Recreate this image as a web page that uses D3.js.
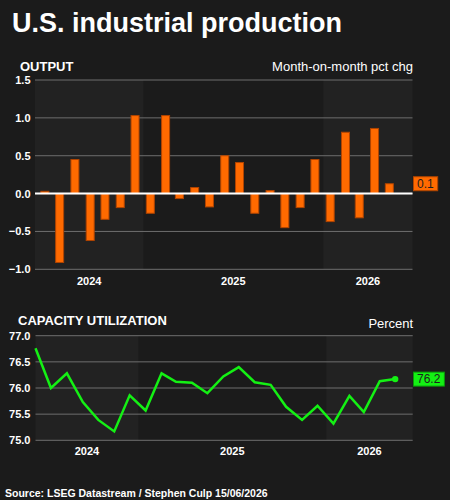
<!DOCTYPE html>
<html>
<head>
<meta charset="utf-8">
<script src="https://cdn.jsdelivr.net/npm/d3@7"></script>
<style>
  body { margin: 0; background: #1b1b1b; }
  svg { display: block; font-family: "Liberation Sans", Arial, sans-serif; }
</style>
</head>
<body>
<div id="chart"></div>
<script>
  // ── Data ──────────────────────────────────────────────────────────────────
  const months = [
    "2024-06", "2024-07", "2024-08", "2024-09", "2024-10", "2024-11", "2024-12",
    "2025-01", "2025-02", "2025-03", "2025-04", "2025-05", "2025-06",
    "2025-07", "2025-08", "2025-09", "2025-10", "2025-11", "2025-12",
    "2026-01", "2026-02", "2026-03", "2026-04", "2026-05"
  ];
  // Industrial output, month-on-month pct change
  const outputChg = [
    0.03, -0.91, 0.45, -0.62, -0.34, -0.185, 1.03,
    -0.26, 1.03, -0.066, 0.08, -0.176, 0.50,
    0.41, -0.26, 0.04, -0.45, -0.185, 0.45,
    -0.37, 0.81, -0.32, 0.86, 0.13
  ];
  // Capacity utilization, percent
  const capUtil = [
    76.76, 76.00, 76.28, 75.73, 75.39, 75.17, 75.86,
    75.57, 76.28, 76.12, 76.10, 75.90, 76.22,
    76.40, 76.11, 76.06, 75.64, 75.39, 75.66,
    75.32, 75.85, 75.54, 76.13, 76.17
  ];
  const years = [2024, 2025, 2026];
  const outputTicks = [-1.0, -0.5, 0.0, 0.5, 1.0, 1.5];
  const capTicks = [75.0, 75.5, 76.0, 76.5, 77.0];

  const W = 450, H = 500;
  const BG = '#1b1b1b', BAND = '#222222', GRID = '#6e6e6e';
  const ORANGE = '#ff6a00', ORANGE_DARK = '#b04400';
  const GREEN = '#14f014', GREEN_DARK = '#0a9a0a';

  // observations are plotted mid-month
  const dates = months.map(m => {
    const [y, mo] = m.split('-').map(Number);
    return new Date(y, mo - 1, 15);
  });

  const svg = d3.select('#chart').append('svg')
    .attr('width', W).attr('height', H);

  svg.append('rect').attr('width', W).attr('height', H).attr('fill', BG);

  svg.append('text')
    .attr('x', 12).attr('y', 32)
    .attr('fill', '#fff').attr('font-size', 27).attr('font-weight', 700)
    .text('U.S. industrial production');

  svg.append('text')
    .attr('x', 5).attr('y', 496.5)
    .attr('fill', '#fff').attr('font-size', 10.5).attr('font-weight', 700)
    .text('Source: LSEG Datastream / Stephen Culp 15/06/2026');

  // ── Shared panel scaffolding: year bands, grid, labels ────────────────────
  function drawPanel(opt) {
    const g = svg.append('g');
    const x = d3.scaleTime().domain(opt.xDomain).range(opt.xRange);
    const y = d3.scaleLinear().domain(opt.yDomain).range(opt.yRange);
    const [x0, x1] = opt.xRange;

    // alternating year shading
    const bands = years.map((yr, i) => {
      const a = Math.max(x0, x(new Date(yr, 0, 1)));
      const b = Math.min(x1, x(new Date(yr + 1, 0, 1)));
      return { yr, a, b, shaded: i % 2 === 0 };
    });
    g.selectAll('.band').data(bands.filter(d => d.shaded)).join('rect')
      .attr('x', d => d.a).attr('width', d => d.b - d.a)
      .attr('y', y.range()[1]).attr('height', y.range()[0] - y.range()[1])
      .attr('fill', BAND);

    // gridlines + y labels
    g.selectAll('.grid').data(opt.ticks).join('line')
      .attr('x1', x0).attr('x2', x1)
      .attr('y1', d => y(d)).attr('y2', d => y(d))
      .attr('stroke', GRID).attr('stroke-width', 1);

    g.selectAll('.ylab').data(opt.ticks).join('text')
      .attr('x', 30.5).attr('y', d => y(d)).attr('dy', '0.36em')
      .attr('text-anchor', 'end')
      .attr('fill', '#fff').attr('font-size', 11).attr('font-weight', 700)
      .text(d => d3.format('.1f')(d));

    // year labels
    g.selectAll('.xlab').data(bands).join('text')
      .attr('x', d => (d.a + d.b) / 2).attr('y', opt.yearY)
      .attr('text-anchor', 'middle')
      .attr('fill', '#fff').attr('font-size', 11).attr('font-weight', 700)
      .text(d => d.yr);

    // titles
    g.append('text')
      .attr('x', opt.titleX).attr('y', opt.titleY)
      .attr('fill', '#fff').attr('font-size', 13).attr('font-weight', 700)
      .text(opt.title);
    g.append('text')
      .attr('x', x1 + 0.5).attr('y', opt.unitY).attr('text-anchor', 'end')
      .attr('fill', '#fff').attr('font-size', 13)
      .text(opt.unit);

    return { g, x, y };
  }

  function valueTag(g, yPos, text, fill, stroke) {
    const t = g.append('text')
      .attr('x', 417).attr('y', yPos).attr('dy', '0.36em')
      .attr('fill', '#1e1e1e').attr('font-size', 12)
      .text(text);
    const w = t.node().getComputedTextLength();
    g.insert('rect', () => t.node())
      .attr('x', 413.5).attr('y', yPos - 7)
      .attr('width', w + 7.5).attr('height', 14)
      .attr('fill', fill).attr('stroke', stroke).attr('stroke-width', 1);
  }

  // ── Output panel (bars) ───────────────────────────────────────────────────
  const outP = drawPanel({
    xDomain: [new Date(2024, 4, 26), new Date(2026, 6, 1)],
    xRange: [35, 412.5],
    yDomain: [-1.0, 1.5],
    yRange: [269.3, 80],
    ticks: outputTicks,
    yearY: 285,
    title: 'OUTPUT', titleX: 20, titleY: 71,
    unit: 'Month-on-month pct chg', unitY: 71
  });

  const barW = 8;
  outP.g.selectAll('.bar').data(outputChg).join('rect')
    .attr('x', (d, i) => outP.x(dates[i]) - barW / 2)
    .attr('y', d => outP.y(Math.max(0, d)))
    .attr('width', barW)
    .attr('height', d => Math.abs(outP.y(d) - outP.y(0)))
    .attr('fill', ORANGE).attr('stroke', ORANGE_DARK).attr('stroke-width', 1);

  outP.g.append('line')
    .attr('x1', 35).attr('x2', 412.5)
    .attr('y1', outP.y(0)).attr('y2', outP.y(0))
    .attr('stroke', '#fff').attr('stroke-width', 2);

  const lastOut = outputChg[outputChg.length - 1];
  valueTag(outP.g, outP.y(lastOut), d3.format('.1f')(lastOut), ORANGE, ORANGE_DARK);

  // ── Capacity utilization panel (line) ─────────────────────────────────────
  const capP = drawPanel({
    xDomain: [new Date(2024, 5, 15), new Date(2026, 5, 18)],
    xRange: [35.5, 412.7],
    yDomain: [75.0, 77.0],
    yRange: [440.3, 335.7],
    ticks: capTicks,
    yearY: 455,
    title: 'CAPACITY UTILIZATION', titleX: 18, titleY: 325,
    unit: 'Percent', unitY: 328
  });

  const line = d3.line()
    .x((d, i) => capP.x(dates[i]))
    .y(d => capP.y(d));

  capP.g.append('path')
    .datum(capUtil)
    .attr('d', line)
    .attr('fill', 'none')
    .attr('stroke', GREEN).attr('stroke-width', 2.5)
    .attr('stroke-linejoin', 'miter');

  const lastCap = capUtil[capUtil.length - 1];
  capP.g.append('circle')
    .attr('cx', capP.x(dates[dates.length - 1])).attr('cy', capP.y(lastCap))
    .attr('r', 3.2).attr('fill', GREEN);

  valueTag(capP.g, capP.y(lastCap), d3.format('.1f')(lastCap), GREEN, GREEN_DARK);
</script>
</body>
</html>
